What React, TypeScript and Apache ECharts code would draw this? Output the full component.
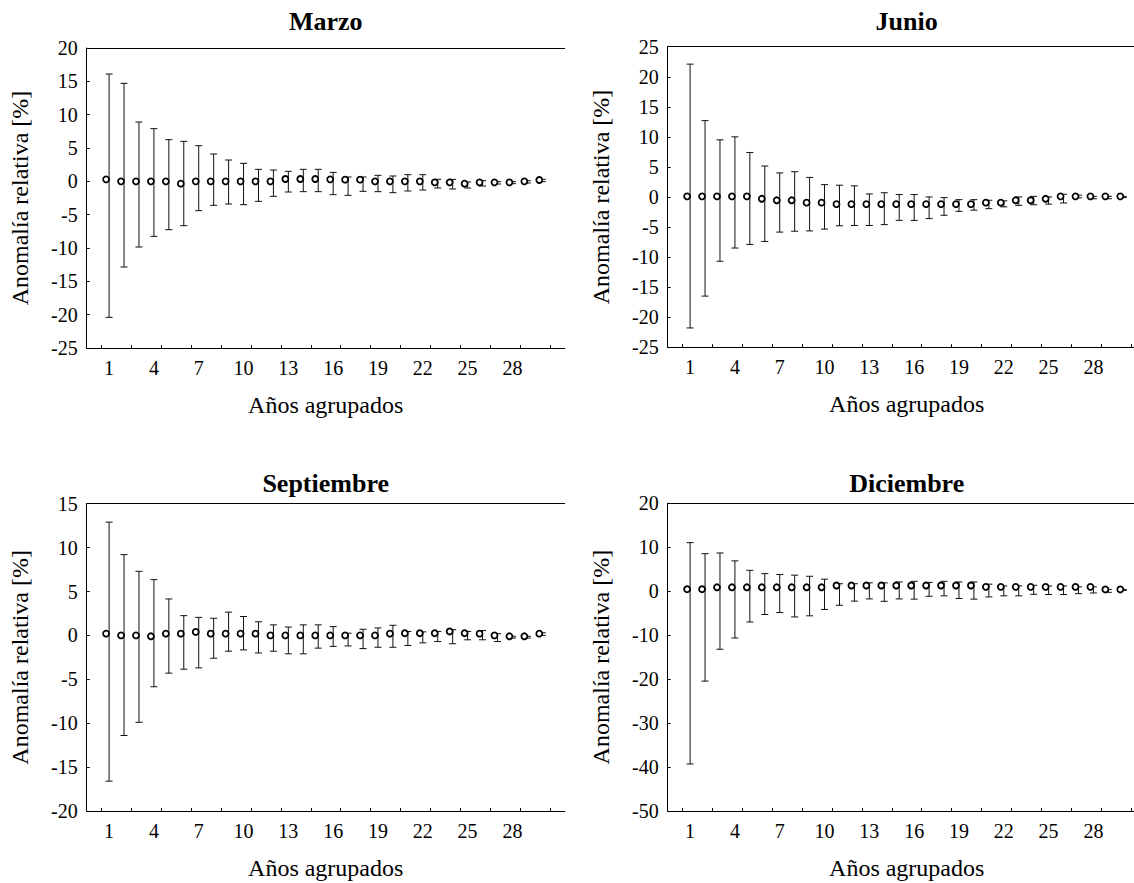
import React, { useEffect, useRef } from "react";
import * as echarts from "echarts";

// ---- data ----
const years = [1, 2, 3, 4, 5, 6, 7, 8, 9, 10, 11, 12, 13, 14, 15, 16, 17, 18, 19, 20, 21, 22, 23, 24, 25, 26, 27, 28, 29, 30];
const xLabelValues = [1, 4, 7, 10, 13, 16, 19, 22, 25, 28];
const xTickValues = [0.5, 2.5, 4.5, 6.5, 8.5, 10.5, 12.5, 14.5, 16.5, 18.5, 20.5, 22.5, 24.5, 26.5, 28.5, 30.5];

const titles = ["Marzo", "Junio", "Septiembre", "Diciembre"];
const xTitle = "Años agrupados";
const yTitle = "Anomalía relativa [%]";

const marzoMean = [0.3, 0, 0, 0, 0, -0.35, 0, 0, 0, 0, 0, 0, 0.35, 0.35, 0.35, 0.3, 0.25, 0.25, 0, 0, 0, 0, -0.15, -0.15, -0.35, -0.15, -0.15, -0.15, 0, 0.2];
const marzoHigh = [16.1, 14.7, 8.9, 7.9, 6.25, 6.0, 5.35, 4.1, 3.2, 2.7, 1.8, 1.7, 1.5, 1.8, 1.8, 1.35, 0.65, 0.65, 0.9, 0.8, 1.0, 1.0, 0.3, 0.3, -0.1, 0.1, -0.05, -0.05, 0.1, 0.3];
const marzoLow = [-20.4, -12.85, -9.85, -8.25, -7.25, -6.65, -4.4, -3.6, -3.4, -3.5, -3.0, -2.25, -1.6, -1.55, -1.55, -2.0, -2.1, -1.5, -1.55, -1.7, -1.45, -1.3, -1.0, -1.15, -1.0, -0.7, -0.4, -0.35, -0.25, -0.05];

const junioMean = [0.1, 0.1, 0.1, 0.1, 0.1, -0.3, -0.55, -0.55, -0.95, -0.95, -1.2, -1.2, -1.2, -1.2, -1.2, -1.2, -1.2, -1.2, -1.2, -1.2, -0.95, -0.95, -0.55, -0.55, -0.3, 0.1, 0.1, 0.1, 0.1, 0.1];
const junioHigh = [22.1, 12.7, 9.5, 10.0, 7.4, 5.15, 4.0, 4.2, 3.25, 2.05, 1.95, 1.85, 0.5, 0.7, 0.4, 0.4, 0.0, -0.1, -0.45, -0.45, -0.55, -0.65, 0.0, 0.1, 0.0, 0.45, 0.3, 0.1, 0.1, 0.1];
const junioLow = [-21.8, -16.5, -10.7, -8.5, -7.9, -7.4, -5.85, -5.7, -5.65, -5.35, -4.8, -4.75, -4.75, -4.6, -3.9, -3.9, -3.6, -3.05, -2.4, -2.2, -1.95, -1.65, -1.4, -1.3, -1.2, -1.0, -0.15, -0.3, -0.3, -0.1];

const septMean = [0.2, 0, 0, -0.1, 0.2, 0.2, 0.4, 0.2, 0.2, 0.2, 0.2, 0, 0, 0, 0, 0, 0, 0, 0, 0.2, 0.25, 0.25, 0.25, 0.45, 0.25, 0.2, 0, -0.1, -0.1, 0.2];
const septHigh = [12.9, 9.2, 7.3, 6.35, 4.15, 2.25, 2.05, 1.95, 2.65, 2.15, 1.55, 1.2, 0.95, 1.2, 1.2, 1.0, 0.25, 0.7, 0.85, 1.15, 0.45, 0.4, 0.45, 0.65, 0.45, 0.55, 0.2, -0.1, -0.1, 0.3];
const septLow = [-16.6, -11.4, -9.9, -5.85, -4.3, -3.85, -3.7, -2.6, -1.8, -1.65, -2.0, -1.8, -2.1, -2.1, -1.45, -1.25, -1.2, -1.5, -1.35, -1.35, -1.15, -0.85, -0.7, -0.95, -0.5, -0.5, -0.7, -0.3, -0.3, 0.0];

const dicMean = [0.45, 0.45, 0.9, 0.9, 0.9, 0.9, 0.9, 0.9, 0.9, 0.9, 1.3, 1.3, 1.3, 1.3, 1.3, 1.3, 1.3, 1.3, 1.3, 1.3, 1.0, 1.0, 1.0, 1.0, 1.0, 1.0, 1.0, 1.0, 0.4, 0.4];
const dicHigh = [11.05, 8.55, 8.7, 6.9, 4.75, 4.0, 3.8, 3.65, 3.4, 2.75, 1.7, 1.7, 1.9, 1.9, 2.1, 2.25, 2.0, 2.25, 2.1, 2.1, 1.6, 1.2, 1.2, 1.35, 1.2, 1.2, 1.0, 1.0, 0.4, 0.4];
const dicLow = [-39.3, -20.45, -13.2, -10.65, -7.0, -5.3, -4.85, -5.85, -5.6, -4.15, -3.2, -2.25, -1.75, -2.3, -1.75, -1.8, -1.15, -1.05, -1.65, -1.8, -1.3, -1.05, -1.05, -0.7, -0.75, -0.75, -0.55, -0.4, -0.25, 0.2];

const yRanges = [
  { min: -25, max: 20, interval: 5 },
  { min: -25, max: 25, interval: 5 },
  { min: -20, max: 15, interval: 5 },
  { min: -50, max: 20, interval: 10 },
];

const seriesData = [
  { mean: marzoMean, high: marzoHigh, low: marzoLow },
  { mean: junioMean, high: junioHigh, low: junioLow },
  { mean: septMean, high: septHigh, low: septLow },
  { mean: dicMean, high: dicHigh, low: dicLow },
];

// ---- layout ----
const grids = [
  { left: 86.7, top: 48, width: 478, height: 300 },
  { left: 667.7, top: 46.7, width: 478, height: 300.5 },
  { left: 86.7, top: 503.7, width: 478, height: 307.3 },
  { left: 667.7, top: 503.3, width: 478, height: 307.7 },
];
const titleY = [21, 21, 483, 483];

const FONT = "Liberation Serif, Times New Roman, serif";

function buildOption() {
  const grid: any[] = [];
  const xAxis: any[] = [];
  const yAxis: any[] = [];
  const series: any[] = [];
  const graphic: any[] = [];

  grids.forEach((g, i) => {
    grid.push({ left: g.left, top: g.top, width: g.width, height: g.height, containLabel: false, outerBoundsMode: "none" });
    xAxis.push({
      gridIndex: i,
      type: "value",
      min: -0.5,
      max: 31.5,
      position: "bottom",
      axisLine: { show: true, onZero: false, lineStyle: { color: "#000", width: 1 } },
      axisTick: { show: true, inside: true, length: 3, customValues: xTickValues, lineStyle: { color: "#000" } },
      axisLabel: { customValues: xLabelValues, color: "#000", fontSize: 20, fontFamily: FONT, margin: 10 },
      splitLine: { show: false },
      name: xTitle,
      nameLocation: "middle",
      nameGap: 45,
      nameTextStyle: { color: "#000", fontSize: 24, fontFamily: FONT },
    });
    xAxis.push({
      gridIndex: i,
      type: "value",
      min: -0.5,
      max: 31.5,
      position: "top",
      axisLine: { show: true, onZero: false, lineStyle: { color: "#000", width: 1 } },
      axisTick: { show: false },
      axisLabel: { show: false },
      splitLine: { show: false },
    });
    const yr = yRanges[i];
    yAxis.push({
      gridIndex: i,
      type: "value",
      min: yr.min,
      max: yr.max,
      interval: yr.interval,
      axisLine: { show: true, onZero: false, lineStyle: { color: "#000", width: 1 } },
      axisTick: { show: true, inside: true, length: 3, lineStyle: { color: "#000" } },
      axisLabel: { color: "#000", fontSize: 20, fontFamily: FONT, margin: 9 },
      splitLine: { show: false },
      name: yTitle,
      nameLocation: "middle",
      nameGap: 55,
      nameRotate: 90,
      nameTextStyle: { color: "#000", fontSize: 24, fontFamily: FONT },
    });

    const d = seriesData[i];
    series.push({
      type: "custom",
      xAxisIndex: i * 2,
      yAxisIndex: i,
      encode: { x: 0, y: [1, 2] },
      data: years.map((yv, k) => [yv, d.low[k], d.high[k]]),
      renderItem: (params: any, api: any) => {
        const x = api.value(0);
        const pLo = api.coord([x, api.value(1)]);
        const pHi = api.coord([x, api.value(2)]);
        const cw = 3.5;
        const st = { stroke: "#111", lineWidth: 1 };
        return {
          type: "group",
          children: [
            { type: "line", shape: { x1: pHi[0], y1: pHi[1], x2: pLo[0], y2: pLo[1] }, style: st },
            { type: "line", shape: { x1: pHi[0] - cw, y1: pHi[1], x2: pHi[0] + cw, y2: pHi[1] }, style: st },
            { type: "line", shape: { x1: pLo[0] - cw, y1: pLo[1], x2: pLo[0] + cw, y2: pLo[1] }, style: st },
          ],
        };
      },
      z: 2,
    });
    series.push({
      type: "scatter",
      xAxisIndex: i * 2,
      yAxisIndex: i,
      data: years.map((yv, k) => [yv, d.mean[k]]),
      symbol: "circle",
      symbolSize: 6,
      symbolOffset: [-3, 0],
      itemStyle: { color: "#fff", borderColor: "#000", borderWidth: 1.8, opacity: 1 },
      z: 3,
    });

    graphic.push({
      type: "text",
      x: g.left + g.width / 2,
      y: titleY[i],
      style: {
        text: titles[i],
        fill: "#000",
        fontSize: 26,
        fontWeight: "bold",
        fontFamily: FONT,
        textAlign: "center",
        textVerticalAlign: "middle",
        align: "center",
        verticalAlign: "middle",
      },
    });
  });

  return {
    animation: false,
    backgroundColor: "#fff",
    grid,
    xAxis,
    yAxis,
    series,
    graphic,
  };
}

export default function App() {
  const ref = useRef<HTMLDivElement>(null);
  useEffect(() => {
    document.body.style.margin = "0";
    if (!ref.current) return;
    const chart = echarts.init(ref.current, undefined, { renderer: "svg" });
    chart.setOption(buildOption() as any);
    return () => chart.dispose();
  }, []);
  return <div ref={ref} style={{ width: 1134, height: 883, background: "#fff" }} />;
}
